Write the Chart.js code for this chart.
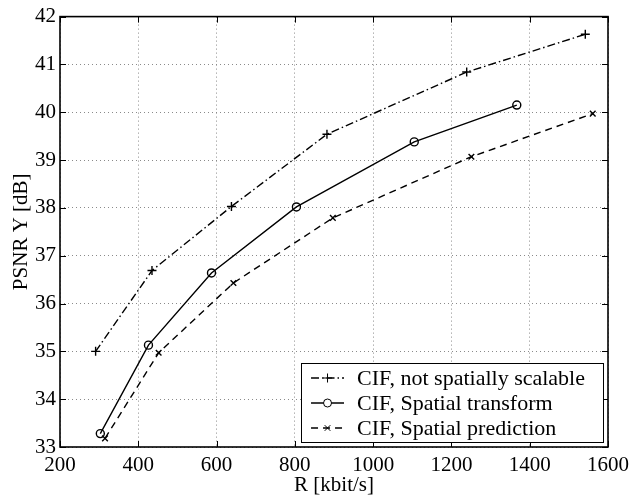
<!DOCTYPE html>
<html>
<head>
<meta charset="utf-8">
<script src="https://cdn.jsdelivr.net/npm/chart.js@4.4.0/dist/chart.umd.min.js"></script>
<style>
  html, body { margin: 0; padding: 0; background: #fff; }
</style>
</head>
<body>
<canvas id="psnr" width="635" height="496"></canvas>
<script>
// values
const seriesNames = ['CIF, not spatially scalable', 'CIF, Spatial transform', 'CIF, Spatial prediction'];
const rateNotScalable = [291, 435, 638, 882, 1239, 1542];
const psnrNotScalable = [35.0, 36.69, 38.03, 39.54, 40.84, 41.63];
const rateTransform = [303, 426, 587, 804, 1105, 1367];
const psnrTransform = [33.28, 35.13, 36.64, 38.02, 39.38, 40.15];
const ratePrediction = [315, 452, 643, 897, 1251, 1561];
const psnrPrediction = [33.18, 34.97, 36.43, 37.79, 39.07, 39.97];
const xTicks = [200, 400, 600, 800, 1000, 1200, 1400, 1600];
const yTicks = [33, 34, 35, 36, 37, 38, 39, 40, 41, 42];

const serif = "'Liberation Serif', 'Times New Roman', serif";

function toPoints(xs, ys) {
    return xs.map((x, i) => ({ x: x, y: ys[i] }));
}

// box round the plot with inward ticks on all four sides (matlab look)
const framePlugin = {
    id: 'frame',
    afterDatasetsDraw(chart) {
        const { ctx, chartArea: a, scales } = chart;
        const len = 6;
        ctx.save();
        ctx.strokeStyle = '#000';
        ctx.lineWidth = 1;
        ctx.beginPath();
        xTicks.forEach(v => {
            const px = Math.round(scales.x.getPixelForValue(v)) + 0.5;
            ctx.moveTo(px, a.bottom); ctx.lineTo(px, a.bottom - len);
            ctx.moveTo(px, a.top); ctx.lineTo(px, a.top + len);
        });
        yTicks.forEach(v => {
            const py = Math.round(scales.y.getPixelForValue(v)) + 0.5;
            ctx.moveTo(a.left, py); ctx.lineTo(a.left + len, py);
            ctx.moveTo(a.right, py); ctx.lineTo(a.right - len, py);
        });
        ctx.stroke();
        ctx.lineWidth = 1.6;
        ctx.strokeRect(a.left, a.top, a.right - a.left, a.bottom - a.top);
        ctx.restore();
    }
};

// legend box in the lower right corner of the plot
const boxLegend = {
    id: 'boxLegend',
    afterDraw(chart) {
        const { ctx, chartArea: a } = chart;
        const sets = chart.data.datasets;
        ctx.save();
        ctx.font = '22px ' + serif;
        const textW = Math.max(...sets.map(d => ctx.measureText(d.label).width));
        const rowH = 25;
        const w = 10 + 33 + 13 + textW + 18;
        const h = 79;
        const right = a.right - 5;
        const bottom = a.bottom - 5;
        const left = right - w;
        const top = bottom - h;
        ctx.fillStyle = '#fff';
        ctx.fillRect(left, top, w, h);
        ctx.strokeStyle = '#000';
        ctx.lineWidth = 1;
        ctx.strokeRect(Math.round(left) + 0.5, top + 0.5, Math.round(w), h);
        sets.forEach((d, i) => {
            const cy = top + 15 + i * rowH;
            const x0 = left + 10, x1 = x0 + 33;
            ctx.save();
            ctx.lineWidth = d.borderWidth;
            ctx.setLineDash(d.borderDash || []);
            ctx.beginPath();
            ctx.moveTo(x0, cy); ctx.lineTo(x1, cy);
            ctx.stroke();
            ctx.restore();
            ctx.save();
            ctx.fillStyle = '#fff';
            ctx.strokeStyle = '#000';
            Chart.helpers.drawPoint(ctx, {
                pointStyle: d.pointStyle,
                radius: d.pointRadius,
                borderWidth: d.pointBorderWidth,
                rotation: 0
            }, (x0 + x1) / 2, cy);
            ctx.restore();
            ctx.fillStyle = '#000';
            ctx.textBaseline = 'middle';
            ctx.fillText(d.label, x1 + 13, cy + 1);
        });
        ctx.restore();
    }
};

const lineStyle = {
    borderColor: '#000',
    pointBorderColor: '#000',
    pointBackgroundColor: 'rgba(0,0,0,0)',
    borderWidth: 1.4,
    pointBorderWidth: 1.4,
    fill: false,
    tension: 0
};

new Chart(document.getElementById('psnr'), {
    type: 'line',
    data: {
        datasets: [
            Object.assign({}, lineStyle, {
                label: seriesNames[0],
                data: toPoints(rateNotScalable, psnrNotScalable),
                borderDash: [8, 3, 1.5, 3],
                pointStyle: 'cross',
                pointRadius: 4.5
            }),
            Object.assign({}, lineStyle, {
                label: seriesNames[1],
                data: toPoints(rateTransform, psnrTransform),
                borderDash: [],
                pointStyle: 'circle',
                pointRadius: 4
            }),
            Object.assign({}, lineStyle, {
                label: seriesNames[2],
                data: toPoints(ratePrediction, psnrPrediction),
                borderDash: [7, 5],
                pointStyle: 'crossRot',
                pointRadius: 4
            })
        ]
    },
    options: {
        responsive: false,
        animation: false,
        devicePixelRatio: 1,
        layout: { padding: { left: 0, top: 13, right: 24, bottom: 0 } },
        plugins: {
            legend: { display: false },
            tooltip: { enabled: false }
        },
        scales: {
            x: {
                type: 'linear',
                min: 200,
                max: 1600,
                afterBuildTicks: s => { s.ticks = xTicks.map(v => ({ value: v })); },
                afterFit: s => { s.height = 49; },
                ticks: {
                    color: '#000',
                    padding: 6,
                    maxRotation: 0,
                    font: { family: serif, size: 21 },
                    callback: v => String(v)
                },
                grid: { color: '#8a8a8a', lineWidth: 1, drawTicks: false },
                border: { display: false, dash: [1, 3] },
                title: {
                    display: true,
                    text: 'R [kbit/s]',
                    color: '#000',
                    padding: 0,
                    font: { family: serif, size: 21, lineHeight: 1.0 }
                }
            },
            y: {
                type: 'linear',
                min: 33,
                max: 42,
                afterBuildTicks: s => { s.ticks = yTicks.map(v => ({ value: v })); },
                afterFit: s => { s.width = 60; },
                ticks: {
                    color: '#000',
                    padding: 4,
                    font: { family: serif, size: 21 },
                    callback: v => String(v)
                },
                grid: { color: '#8a8a8a', lineWidth: 1, drawTicks: false },
                border: { display: false, dash: [1, 3] },
                title: {
                    display: true,
                    text: 'PSNR Y [dB]',
                    color: '#000',
                    padding: { top: 9, bottom: 0 },
                    font: { family: serif, size: 21 }
                }
            }
        }
    },
    plugins: [framePlugin, boxLegend]
});
</script>
</body>
</html>
